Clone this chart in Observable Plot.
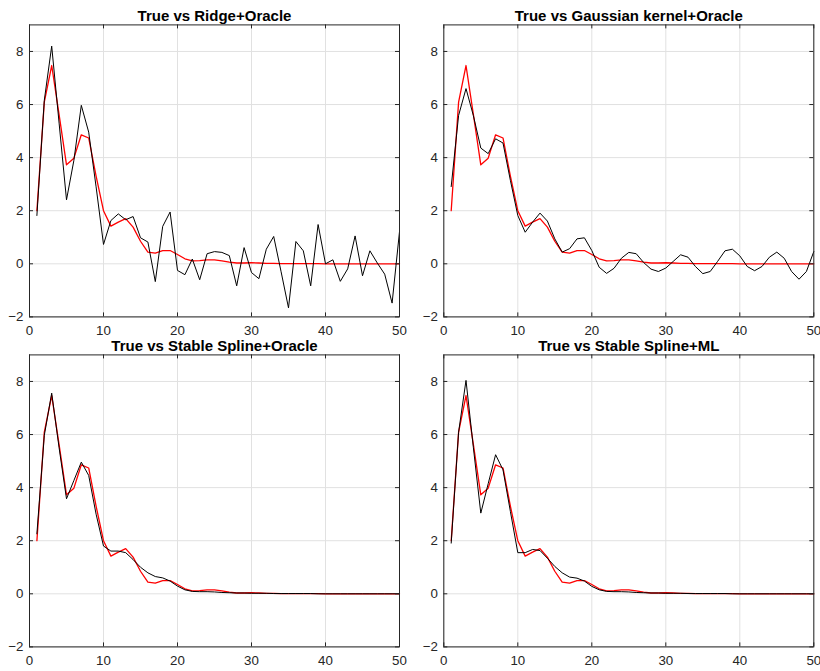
<!DOCTYPE html>
<html>
<head>
<meta charset="utf-8">
<script src="https://cdn.jsdelivr.net/npm/d3@7"></script>
<script src="https://cdn.jsdelivr.net/npm/@observablehq/plot@0.6"></script>
<style>
  html, body { margin: 0; padding: 0; background: #ffffff; }
  #fig { position: relative; width: 820px; height: 671px; background: #ffffff; overflow: hidden; }
  #fig > div { position: absolute; }
</style>
</head>
<body>
<div id="fig"></div>
<script>
// ---- data ----
const lags = d3.range(1, 51);

const trueIR = [2.0, 6.09, 7.47, 5.62, 3.73, 3.98, 4.86, 4.74, 3.3, 2.0,
  1.42, 1.57, 1.70, 1.38, 0.85, 0.44, 0.40, 0.50, 0.50, 0.35,
  0.19, 0.11, 0.12, 0.15, 0.15, 0.11, 0.06, 0.03, 0.03, 0.04,
  0.03, 0.02, 0.02, 0.01, 0.01, 0.01, 0.01, 0.01, 0.01, 0.0,
  0.0, 0.0, 0.0, 0.0, 0.0, 0.0, 0.0, 0.0, 0.0, 0.0];

const ridgeOracle = [1.82, 6.16, 8.2, 5.3, 2.41, 3.9, 5.97, 4.96, 2.9, 0.73,
  1.63, 1.88, 1.66, 1.78, 0.98, 0.82, -0.67, 1.41, 1.95, -0.25,
  -0.41, 0.18, -0.6, 0.38, 0.46, 0.43, 0.31, -0.83, 0.61, -0.33,
  -0.56, 0.55, 1.03, -0.3, -1.66, 0.84, 0.49, -0.83, 1.48, 0.0,
  0.15, -0.66, -0.19, 1.05, -0.45, 0.49, 0.03, -0.39, -1.48, 1.21];

const gaussOracle = [2.91, 5.59, 6.6, 5.58, 4.36, 4.15, 4.71, 4.55, 3.14, 1.82,
  1.19, 1.57, 1.91, 1.61, 0.94, 0.44, 0.57, 0.94, 0.98, 0.5,
  -0.13, -0.36, -0.17, 0.21, 0.43, 0.38, 0.05, -0.2, -0.29, -0.16,
  0.09, 0.34, 0.25, -0.1, -0.37, -0.29, 0.09, 0.49, 0.55, 0.3,
  -0.1, -0.26, -0.1, 0.25, 0.44, 0.21, -0.29, -0.58, -0.29, 0.46];

const splineOracle = [2.26, 5.97, 7.56, 5.5, 3.58, 4.27, 4.96, 4.46, 3.0, 1.8,
  1.61, 1.61, 1.55, 1.29, 1.0, 0.79, 0.65, 0.6, 0.48, 0.29,
  0.15, 0.09, 0.08, 0.08, 0.07, 0.05, 0.04, 0.03, 0.03, 0.02,
  0.02, 0.02, 0.01, 0.01, 0.01, 0.01, 0.01, 0.01, 0.0, 0.0,
  0.0, 0.0, 0.0, 0.0, 0.0, 0.0, 0.0, 0.0, 0.0, 0.0];

const splineML = [1.91, 6.09, 8.04, 5.5, 3.04, 4.15, 5.24, 4.67, 3.1, 1.55,
  1.55, 1.67, 1.63, 1.34, 1.03, 0.79, 0.63, 0.59, 0.48, 0.28,
  0.15, 0.09, 0.08, 0.08, 0.07, 0.05, 0.04, 0.03, 0.03, 0.02,
  0.02, 0.02, 0.01, 0.01, 0.01, 0.01, 0.01, 0.01, 0.0, 0.0,
  0.0, 0.0, 0.0, 0.0, 0.0, 0.0, 0.0, 0.0, 0.0, 0.0];

const titles = ["True vs Ridge+Oracle", "True vs Gaussian kernel+Oracle",
  "True vs Stable Spline+Oracle", "True vs Stable Spline+ML"];
const xTicks = [0, 10, 20, 30, 40, 50];
const yTicks = [-2, 0, 2, 4, 6, 8];

// ---- layout ----
const panels = [
  {est: ridgeOracle,  title: titles[0], left: 0,   top: 0,   width: 412, height: 340, ml: 29, mr: 13, mt: 24.4, mb: 23.6},
  {est: gaussOracle,  title: titles[1], left: 412, top: 0,   width: 408, height: 340, ml: 31.3, mr: 6.7, mt: 24.4, mb: 23.6},
  {est: splineOracle, title: titles[2], left: 0,   top: 330, width: 412, height: 341, ml: 29, mr: 13, mt: 24.4, mb: 24.6},
  {est: splineML,     title: titles[3], left: 412, top: 330, width: 408, height: 341, ml: 31.3, mr: 6.7, mt: 24.4, mb: 24.6}
];

const axisColor = "#262626";
const fig = document.getElementById("fig");

for (const p of panels) {
  const innerW = p.width - p.ml - p.mr;
  const innerH = p.height - p.mt - p.mb;
  const tick = 4;
  const chart = Plot.plot({
    width: p.width,
    height: p.height,
    marginLeft: p.ml,
    marginRight: p.mr,
    marginTop: p.mt,
    marginBottom: p.mb,
    style: {
      fontFamily: "'Liberation Sans', Arial, Helvetica, sans-serif",
      fontSize: "13.3px",
      color: axisColor,
      background: "transparent",
      overflow: "visible"
    },
    x: {domain: [0, 50], ticks: xTicks},
    y: {domain: [-2, 9], ticks: yTicks},
    marks: [
      Plot.gridX(xTicks, {stroke: "#e1e1e1", strokeOpacity: 1}),
      Plot.gridY(yTicks, {stroke: "#e1e1e1", strokeOpacity: 1}),
      Plot.lineY(trueIR, {x: (d, i) => lags[i], y: d => d, stroke: "#ff0000", strokeWidth: 1.3}),
      Plot.lineY(p.est, {x: (d, i) => lags[i], y: d => d, stroke: "#000000", strokeWidth: 1}),
      Plot.ruleX(xTicks, {insetTop: innerH - tick, stroke: axisColor}),
      Plot.ruleX(xTicks, {insetBottom: innerH - tick, stroke: axisColor}),
      Plot.ruleY(yTicks, {insetRight: innerW - tick, stroke: axisColor}),
      Plot.ruleY(yTicks, {insetLeft: innerW - tick, stroke: axisColor}),
      Plot.frame({stroke: axisColor, strokeWidth: 1}),
      Plot.axisX(xTicks, {tickSize: 0, tickPadding: 8.5, label: null, fill: axisColor}),
      Plot.axisY(yTicks, {tickSize: 0, tickPadding: 6, label: null, fill: axisColor}),
      Plot.text([p.title], {frameAnchor: "top", dy: -9, lineAnchor: "middle",
        fontWeight: "bold", fontSize: 15, fill: "#000000"})
    ]
  });
  const holder = document.createElement("div");
  holder.style.left = p.left + "px";
  holder.style.top = p.top + "px";
  holder.appendChild(chart);
  fig.appendChild(holder);
}
</script>
</body>
</html>
